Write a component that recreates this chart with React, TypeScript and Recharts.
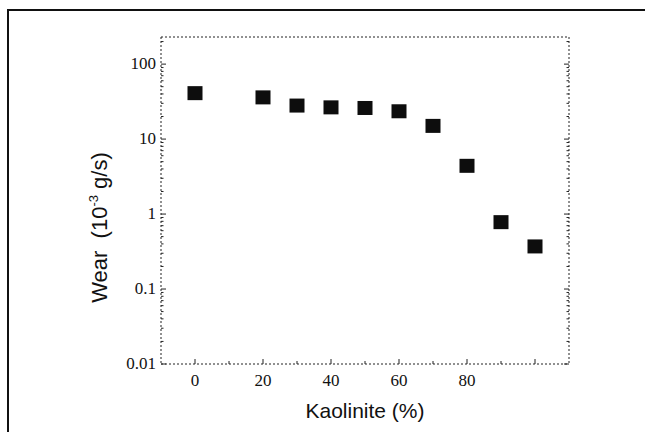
import React from 'react';
import { ScatterChart, Scatter, XAxis, YAxis, Label } from 'recharts';

// Kaolinite content (%) and wear (10^-3 g/s)
const kaolinite = [0, 20, 30, 40, 50, 60, 70, 80, 90, 100];
const wear = [41, 36, 28, 26.5, 26, 23.5, 15, 4.4, 0.78, 0.37];

const xTicks = [0, 10, 20, 30, 40, 50, 60, 70, 80, 90, 100];
const xLabels = [0, 20, 40, 60, 80];
const yMajor = [0.01, 0.1, 1, 10, 100];
const yMinor = [2, 3, 4, 5, 6, 7, 8, 9];

const yTicks: number[] = [];
yMajor.forEach((d) => {
  yTicks.push(d);
  if (d < 100) yMinor.forEach((m) => yTicks.push(+(d * m).toPrecision(3)));
});
yTicks.push(200);

const data = kaolinite.map((k, i) => ({ x: k, y: wear[i] }));

const INK = '#222';
const DASH = '2 2';
const MARGIN = 10;

const isMajorY = (v: number) => yMajor.includes(v);
const isMajorX = (v: number) => v % 20 === 0;

// bottom axis: inward tick + label
const BottomTick = (props: any) => {
  const { x, y, payload } = props;
  const v = payload.value;
  const axisY = y - MARGIN;
  const len = isMajorX(v) ? 5 : 3;
  return (
    <g>
      <line x1={x} x2={x} y1={axisY} y2={axisY - len} stroke={INK} />
      {xLabels.includes(v) && (
        <text x={x} y={axisY + 22} textAnchor="middle" fontFamily="'Liberation Serif', serif" fontSize={17} fill="#111">
          {v}
        </text>
      )}
    </g>
  );
};

const TopTick = (props: any) => {
  const { x, y, payload } = props;
  const axisY = y + MARGIN;
  const len = isMajorX(payload.value) ? 5 : 3;
  return <line x1={x} x2={x} y1={axisY} y2={axisY + len} stroke={INK} />;
};

const LeftTick = (props: any) => {
  const { x, y, payload } = props;
  const v = payload.value;
  const axisX = x + MARGIN;
  const len = isMajorY(v) ? 5 : 2.5;
  return (
    <g>
      <line x1={axisX} x2={axisX + len} y1={y} y2={y} stroke={INK} />
      {isMajorY(v) && (
        <text x={axisX - 5} y={y + 5} textAnchor="end" fontFamily="'Liberation Serif', serif" fontSize={17} fill="#111">
          {v}
        </text>
      )}
    </g>
  );
};

const RightTick = (props: any) => {
  const { x, y, payload } = props;
  const axisX = x - MARGIN;
  const len = isMajorY(payload.value) ? 5 : 2.5;
  return <line x1={axisX} x2={axisX - len} y1={y} y2={y} stroke={INK} />;
};

const Square = (props: any) => {
  const { cx, cy } = props;
  return <rect x={cx - 7.5} y={cy - 7} width={15} height={14} fill="#0d0d0d" />;
};

const YTitle = (props: any) => {
  const vb = props.viewBox;
  const cx = vb.x + 6;
  const cy = vb.y + vb.height / 2 + 27;
  return (
    <text
      x={cx}
      y={cy}
      transform={`rotate(-90, ${cx}, ${cy})`}
      textAnchor="middle"
      fontFamily="'Liberation Sans', Arial, sans-serif"
      fontSize={22}
      fill="#111"
    >
      <tspan>{'Wear\u00a0 (10'}</tspan>
      <tspan fontSize={13} dy={-9}>-3</tspan>
      <tspan dy={9}>{'\u00a0g/s)'}</tspan>
    </text>
  );
};

const XTitle = (props: any) => {
  const vb = props.viewBox;
  return (
    <text
      x={vb.x + vb.width / 2}
      y={vb.y + 54}
      textAnchor="middle"
      fontFamily="'Liberation Sans', Arial, sans-serif"
      fontSize={21}
      fill="#111"
    >
      Kaolinite (%)
    </text>
  );
};

export default function App() {
  return (
    <div style={{ position: 'absolute', left: 0, top: 0, width: 645, height: 432, background: '#fff', overflow: 'hidden' }}>
      {/* edge of the scanned page */}
      <div
        style={{
          position: 'absolute',
          left: 7,
          top: 9,
          width: 640,
          height: 430,
          borderTop: '2px solid #111',
          borderLeft: '2px solid #111',
        }}
      />
      <div style={{ position: 'absolute', left: 0, top: 0 }}>
        <ScatterChart width={645} height={432} margin={{ top: 27, right: 66, bottom: 38, left: 101 }}>
          <XAxis
            type="number"
            dataKey="x"
            domain={[-10, 110]}
            ticks={xTicks}
            interval={0}
            allowDataOverflow
            height={30}
            tickSize={0}
            tickMargin={MARGIN}
            tickLine={false}
            axisLine={{ stroke: INK, strokeDasharray: DASH }}
            tick={<BottomTick />}
          >
            <Label content={<XTitle />} />
          </XAxis>
          <XAxis
            xAxisId="top"
            orientation="top"
            type="number"
            domain={[-10, 110]}
            ticks={xTicks}
            interval={0}
            allowDataOverflow
            height={10}
            tickSize={0}
            tickMargin={MARGIN}
            tickLine={false}
            axisLine={{ stroke: INK, strokeDasharray: DASH }}
            tick={<TopTick />}
          />
          <YAxis
            type="number"
            dataKey="y"
            scale="log"
            domain={[0.01, 230]}
            ticks={yTicks}
            interval={0}
            allowDataOverflow
            width={60}
            tickSize={0}
            tickMargin={MARGIN}
            tickLine={false}
            axisLine={{ stroke: INK, strokeDasharray: DASH }}
            tick={<LeftTick />}
          >
            <Label content={<YTitle />} />
          </YAxis>
          <YAxis
            yAxisId="right"
            orientation="right"
            type="number"
            scale="log"
            domain={[0.01, 230]}
            ticks={yTicks}
            interval={0}
            allowDataOverflow
            width={10}
            tickSize={0}
            tickMargin={MARGIN}
            tickLine={false}
            axisLine={{ stroke: INK, strokeDasharray: DASH }}
            tick={<RightTick />}
          />
          <Scatter data={data} shape={<Square />} isAnimationActive={false} />
        </ScatterChart>
      </div>
    </div>
  );
}
